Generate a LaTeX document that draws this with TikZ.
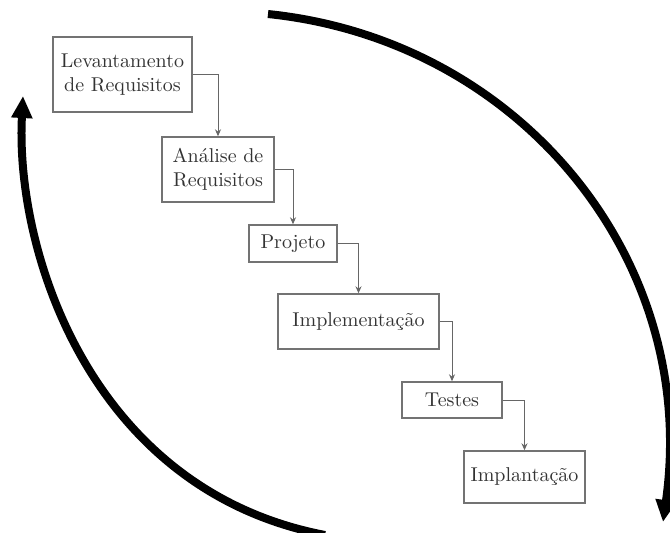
\documentclass[tikz,border=0pt]{standalone}
\usepackage{fontspec}
\usetikzlibrary{arrows.meta}

\begin{document}
\begin{tikzpicture}[x=0.5pt,y=-0.5pt,
    fase/.style={draw=black!55,line width=0.7pt,text=black!80,align=center,inner sep=2pt},
    passo/.style={draw=black!60,line width=0.5pt,-{Stealth[length=3.5pt,width=3pt]}},
    ciclo/.style={line width=4pt,-{Triangle[length=11pt,width=10pt]}}]
\useasboundingbox (0,0) rectangle (670,532);
\node[fase,minimum width=69.5pt,minimum height=37.5pt] (lev) at (122.5,74.5) {Levantamento\\de Requisitos};
\node[fase,minimum width=56pt,minimum height=32.5pt] (ana) at (218,169.5) {Análise de\\Requisitos};
\node[fase,minimum width=44pt,minimum height=18.5pt] (proj) at (293,243.5) {Projeto};
\node[fase,minimum width=80.5pt,minimum height=27.5pt] (impl) at (358.5,321.5) {Implementação};
\node[fase,minimum width=50pt,minimum height=18pt] (test) at (452,400) {Testes};
\node[fase,minimum width=60.5pt,minimum height=26pt] (impa) at (524.5,477) {Implantação};
\draw[passo] (lev) -| (ana);
\draw[passo] (ana) -| (proj);
\draw[passo] (proj) -| (impl);
\draw[passo] (impl) -| (test);
\draw[passo] (test) -| (impa);
% setas grandes do ciclo
\coordinate (a0) at (268,14);
\coordinate (a1) at (663,522);
\coordinate (b0) at (325,535);
\coordinate (b1) at (23,96);
\draw[ciclo] (a0) .. controls (520,40) and (700,260) .. (a1);
\draw[ciclo] (b0) .. controls (90,490) and (15,250) .. (b1);
\end{tikzpicture}
\end{document}
